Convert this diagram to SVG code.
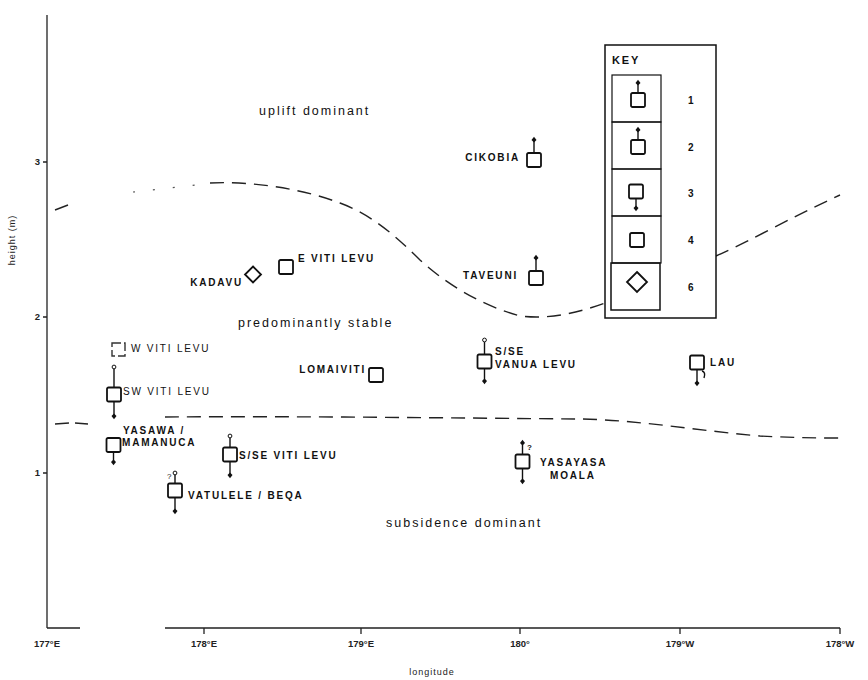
<svg xmlns="http://www.w3.org/2000/svg" width="868" height="680" viewBox="0 0 868 680">
<style>
.lbl{font-family:"Liberation Sans",Arial,sans-serif;font-size:10px;font-weight:bold;letter-spacing:1.8px;fill:#111}
.reg{font-family:"Liberation Sans",Arial,sans-serif;font-size:12.5px;letter-spacing:2px;fill:#111}
.box{fill:#fff;stroke:#111;stroke-width:1.8}
.stem{stroke:#111;stroke-width:1.4;fill:none}
.dash{fill:none;stroke:#222;stroke-width:1.4;stroke-dasharray:14 8}
.ax{stroke:#222;stroke-width:1.3;fill:none}
.tick{font-family:"Liberation Sans",Arial,sans-serif;font-size:9.5px;font-weight:bold;fill:#222}
.q{font-family:"Liberation Sans",Arial,sans-serif;font-size:8px;font-weight:bold;fill:#111}
</style>
<defs>
<marker id="af" viewBox="-4 -4 8 8" markerWidth="8" markerHeight="8" markerUnits="userSpaceOnUse" orient="auto"><path d="M3.2,0 L0,-2.5 L-2.4,0 L0,2.5 Z" fill="#111"/></marker>
<marker id="ao" viewBox="-4 -4 8 8" markerWidth="8" markerHeight="8" markerUnits="userSpaceOnUse" orient="auto"><circle r="1.9" fill="#fff" stroke="#111" stroke-width="1"/></marker>
<rect id="sq" x="-7" y="-7" width="14" height="14" rx="1.5"/>
</defs>
<rect width="868" height="680" fill="#fff"/>

<g id="axes">
<path class="ax" d="M47,15 L47,628 M43,162 L47,162 M43,317 L47,317 M43,473 L47,473"/>
<path class="ax" d="M47,628 L80,628 M165,628 L840,628 M204,628 L204,634 M361,628 L361,634 M520,628 L520,634 M680,628 L680,634 M840,628 L840,634"/>
<text class="tick" x="40" y="165" text-anchor="end">3</text>
<text class="tick" x="40" y="320" text-anchor="end">2</text>
<text class="tick" x="40" y="476" text-anchor="end">1</text>
<text class="tick" x="47" y="647" text-anchor="middle">177°E</text>
<text class="tick" x="204" y="647" text-anchor="middle">178°E</text>
<text class="tick" x="361" y="647" text-anchor="middle">179°E</text>
<text class="tick" x="520" y="647" text-anchor="middle">180°</text>
<text class="tick" x="680" y="647" text-anchor="middle">179°W</text>
<text class="tick" x="840" y="647" text-anchor="middle">178°W</text>
<text class="tick" style="font-weight:normal;font-size:9px;letter-spacing:1px" x="432" y="675" text-anchor="middle">longitude</text>
<text class="tick" style="font-weight:normal;font-size:9px;letter-spacing:1px" transform="translate(15,240) rotate(-90)" text-anchor="middle">height (m)</text>
</g>

<g id="boundaries">
<path class="dash" d="M55,210 L68,205"/>
<path d="M133,192 L205,184" fill="none" stroke="#555" stroke-width="1.2" stroke-dasharray="2 18"/>
<path class="dash" d="M210,183 C250,181 300,188 340,203 C370,214 395,235 420,260 C445,283 480,305 520,316 C550,320 580,312 605,303"/>
<path class="dash" d="M716,256 C750,241 790,218 840,195"/>
<path class="dash" d="M55,424 L70,423 M75,423 L88,424"/>
<path class="dash" d="M165,417 C300,416 450,418 580,419 C640,420 700,431 760,436 C800,438 820,438 840,438"/>
</g>

<g id="regions">
<text class="reg" x="259" y="115">uplift dominant</text>
<text class="reg" x="238" y="327">predominantly stable</text>
<text class="reg" x="386" y="527">subsidence dominant</text>
</g>

<g id="connectors">
<path class="stem" marker-end="url(#af)" d="M534,153 L534,140"/>
<path class="stem" marker-end="url(#af)" d="M536,271 L536,258"/>
<path class="stem" marker-end="url(#ao)" d="M114,387 L114,367"/>
<path class="stem" marker-end="url(#af)" d="M114,402 L114,416"/>
<path class="stem" marker-end="url(#af)" d="M113.5,452 L113.5,462"/>
<path class="stem" marker-end="url(#ao)" d="M230,447 L230,436"/>
<path class="stem" marker-end="url(#af)" d="M230,462 L230,475"/>
<path class="stem" marker-end="url(#ao)" d="M175,483 L175,473"/>
<path class="stem" marker-end="url(#af)" d="M175,498 L175,511"/>
<path class="stem" marker-end="url(#ao)" d="M484.5,355 L484.5,340"/>
<path class="stem" marker-end="url(#af)" d="M484.5,368 L484.5,381"/>
<path class="stem" marker-end="url(#af)" d="M522.5,455 L522.5,443"/>
<path class="stem" marker-end="url(#af)" d="M522.5,468 L522.5,481"/>
<path class="stem" marker-end="url(#af)" d="M697,370 L697,383"/>
<path class="stem" d="M702,371 Q706,372 704,378"/>
</g>

<g id="cikobia"><use href="#sq" class="box" x="534" y="160"/><text class="lbl" x="520" y="161" text-anchor="end">CIKOBIA</text></g>
<g id="taveuni"><use href="#sq" class="box" x="536" y="278"/><text class="lbl" x="518" y="279" text-anchor="end">TAVEUNI</text></g>
<g id="kadavu"><polygon class="box" points="253,266.5 261,274.5 253,282.5 245,274.5"/><text class="lbl" x="243" y="286" text-anchor="end">KADAVU</text></g>
<g id="e-viti-levu"><use href="#sq" class="box" x="286" y="267"/><text class="lbl" x="298" y="262">E VITI LEVU</text></g>
<g id="lomaiviti"><use href="#sq" class="box" x="376" y="375"/><text class="lbl" x="366" y="373" text-anchor="end">LOMAIVITI</text></g>
<g id="w-viti-levu"><rect x="112" y="343" width="13" height="13" fill="#fff" stroke="#333" stroke-width="1.4" stroke-dasharray="9 3"/><text class="lbl" x="131" y="352" style="font-weight:normal">W VITI LEVU</text></g>
<g id="sw-viti-levu"><use href="#sq" class="box" x="114" y="394.5"/><text class="lbl" x="123" y="395" style="font-weight:normal">SW VITI LEVU</text></g>
<g id="yasawa"><use href="#sq" class="box" x="113.5" y="445"/><text class="lbl" x="123" y="434">YASAWA /</text><text class="lbl" x="122" y="446">MAMANUCA</text></g>
<g id="s-se-viti-levu"><use href="#sq" class="box" x="230" y="454.5"/><text class="lbl" x="239" y="459">S/SE VITI LEVU</text></g>
<g id="vatulele"><use href="#sq" class="box" x="175" y="490.5"/><text class="q" x="167" y="479" style="font-weight:normal">?</text><text class="lbl" x="188" y="499">VATULELE / BEQA</text></g>
<g id="s-se-vanua-levu"><use href="#sq" class="box" x="484.5" y="361.5"/><text class="lbl" x="495" y="355">S/SE</text><text class="lbl" x="495" y="368">VANUA LEVU</text></g>
<g id="yasayasa"><use href="#sq" class="box" x="522.5" y="461.5"/><text class="q" x="527" y="450">?</text><text class="lbl" x="540" y="466">YASAYASA</text><text class="lbl" x="550" y="479">MOALA</text></g>
<g id="lau"><use href="#sq" class="box" x="697" y="362.5"/><text class="lbl" x="710" y="366">LAU</text></g>

<g id="key">
<rect x="605" y="45" width="111" height="273" fill="#fff" stroke="#111" stroke-width="1.5"/>
<text class="lbl" x="612" y="64" style="font-size:11px">KEY</text>
<rect x="612" y="75" width="49" height="47" fill="none" stroke="#111" stroke-width="1.2"/>
<rect x="612" y="122" width="49" height="47" fill="none" stroke="#111" stroke-width="1.2"/>
<rect x="612" y="169" width="49" height="47" fill="none" stroke="#111" stroke-width="1.2"/>
<rect x="612" y="216" width="49" height="47" fill="none" stroke="#111" stroke-width="1.2"/>
<rect x="611" y="263" width="49" height="47" fill="none" stroke="#111" stroke-width="1.5"/>
<path class="stem" marker-end="url(#af)" d="M638,93 L638,83"/>
<use href="#sq" class="box" x="638" y="100"/>
<path class="stem" marker-end="url(#af)" d="M638,140 L638,130"/>
<use href="#sq" class="box" x="638" y="147"/>
<path class="stem" marker-end="url(#af)" d="M636,198.5 L636,208"/>
<use href="#sq" class="box" x="636" y="191.5"/>
<use href="#sq" class="box" x="637" y="240"/>
<polygon class="box" points="637,272 647,282 637,292 627,282"/>
<text class="lbl" x="688" y="104">1</text>
<text class="lbl" x="688" y="151">2</text>
<text class="lbl" x="688" y="197">3</text>
<text class="lbl" x="688" y="244">4</text>
<text class="lbl" x="688" y="291">6</text>
</g>
</svg>
